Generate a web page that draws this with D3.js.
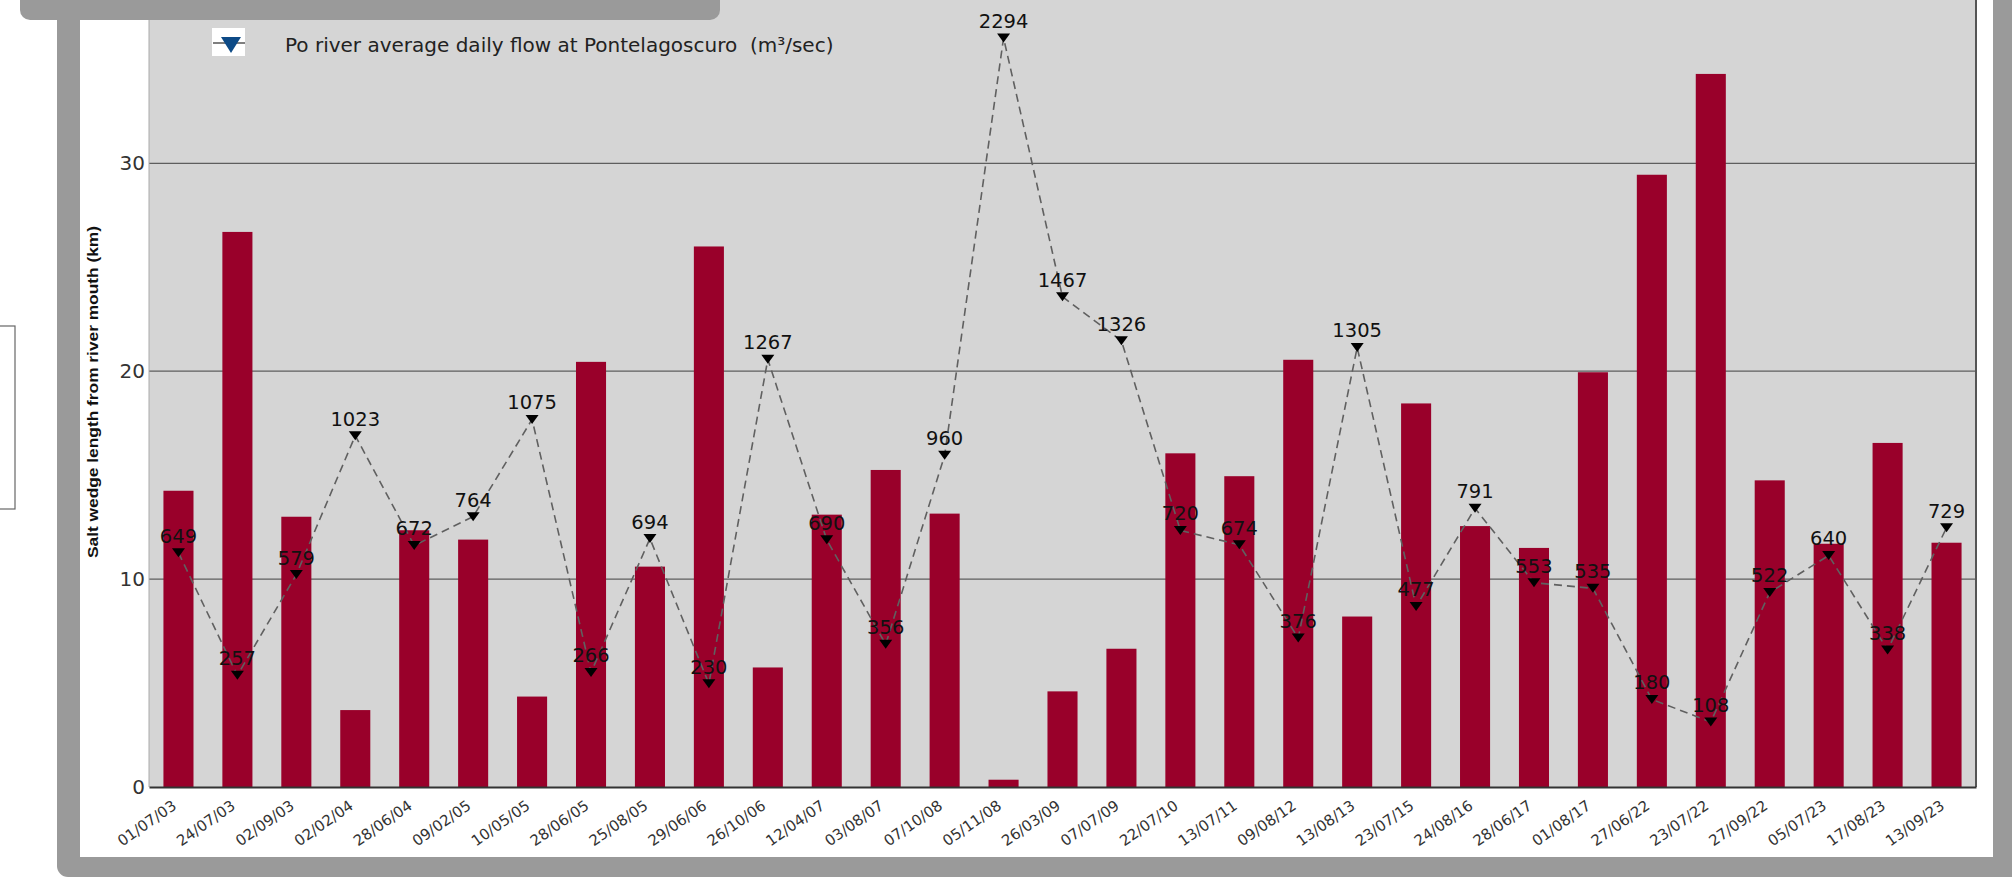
<!DOCTYPE html>
<html>
<head>
<meta charset="utf-8">
<script src="https://cdn.jsdelivr.net/npm/d3@7"></script>
<style>
  html, body { margin: 0; padding: 0; background: #fff; }
  svg { display: block; }
</style>
</head>
<body>
<svg width="2012" height="877"></svg>
<script>
// survey dates (x categories)
var dates = ['01/07/03', '24/07/03', '02/09/03', '02/02/04', '28/06/04', '09/02/05', '10/05/05',
    '28/06/05', '25/08/05', '29/06/06', '26/10/06', '12/04/07', '03/08/07', '07/10/08', '05/11/08',
    '26/03/09', '07/07/09', '22/07/10', '13/07/11', '09/08/12', '13/08/13', '23/07/15', '24/08/16',
    '28/06/17', '01/08/17', '27/06/22', '23/07/22', '27/09/22', '05/07/23', '17/08/23', '13/09/23'];

// salt wedge length (km)
var wedgeKm = [14.25, 26.7, 13.0, 3.7, 12.35, 11.9, 4.35, 20.45, 10.6, 26.0, 5.75, 13.1, 15.25,
    13.15, 0.35, 4.6, 6.65, 16.05, 14.95, 20.55, 8.2, 18.45, 12.55, 11.5, 19.95, 29.45, 34.3,
    14.75, 11.7, 16.55, 11.75];

// Po river flow at Pontelagoscuro (m3/sec), from the point labels
var flow = [649, 257, 579, 1023, 672, 764, 1075, 266, 694, 230, 1267, 690, 356, 960, 2294, 1467,
    1326, 720, 674, 376, 1305, 477, 791, 553, 535, 180, 108, 522, 640, 338, 729];

var kmTicks = [0, 10, 20, 30];
var kmDomain = [0, 38];
var flowDomain = [-100, 2425];   // hidden secondary axis

var yTitle = 'Salt wedge length from river mouth (km)';
var legendLabel = 'Po river average daily flow at Pontelagoscuro  (m\u00b3/sec)';

var svg = d3.select('svg');

var margin = { top: -3, left: 149 };
var width = 1976 - 149;
var height = 787 + 3;

// outer decoration: gray frame, white panel, little box on the left
svg.append('rect')
    .attr('x', -2).attr('y', 326).attr('width', 17).attr('height', 183)
    .attr('fill', '#fff').attr('stroke', '#666').attr('stroke-width', 1.2);

svg.append('rect')
    .attr('x', 57).attr('y', -30).attr('width', 2000).attr('height', 907).attr('rx', 11)
    .attr('fill', '#9a9a9a');

svg.append('rect')
    .attr('x', 80).attr('y', -30).attr('width', 1913).attr('height', 887)
    .attr('fill', '#fff');

var g = svg.append('g')
    .attr('transform', 'translate(' + margin.left + ',' + margin.top + ')');

var xScale = d3.scaleBand()
    .domain(dates)
    .range([0, width])
    .paddingInner(0.49)
    .paddingOuter(0.245);

var yScale = d3.scaleLinear()
    .domain(kmDomain)
    .range([height, 0]);

var flowScale = d3.scaleLinear()
    .domain(flowDomain)
    .range([height, 0]);

g.append('rect')
    .attr('width', width)
    .attr('height', height)
    .attr('fill', '#d5d5d5');

// grid lines
g.append('g')
    .selectAll('line')
    .data(kmTicks.filter(function (d) { return d > 0; }))
    .enter().append('line')
    .attr('x1', 0).attr('x2', width)
    .attr('y1', function (d) { return yScale(d); })
    .attr('y2', function (d) { return yScale(d); })
    .attr('stroke', '#5e5e5e')
    .attr('stroke-width', 1.2);

// bars
g.append('g')
    .selectAll('rect')
    .data(wedgeKm)
    .enter().append('rect')
    .attr('x', function (d, i) { return xScale(dates[i]); })
    .attr('y', function (d) { return yScale(d); })
    .attr('width', xScale.bandwidth())
    .attr('height', function (d) { return height - yScale(d); })
    .attr('fill', '#99002a');

// plot borders
g.append('line')
    .attr('x1', 0).attr('x2', 0).attr('y1', 0).attr('y2', height)
    .attr('stroke', '#aaa').attr('stroke-width', 1);
g.append('line')
    .attr('x1', width).attr('x2', width).attr('y1', 0).attr('y2', height)
    .attr('stroke', '#555').attr('stroke-width', 2);

// axes
var yAxis = g.append('g')
    .call(d3.axisLeft(yScale).tickValues(kmTicks).tickSize(0).tickPadding(4));
yAxis.select('.domain').remove();
yAxis.selectAll('text')
    .attr('font-family', 'DejaVu Sans, sans-serif')
    .attr('font-size', 20)
    .attr('fill', '#333');

var xAxis = g.append('g')
    .attr('transform', 'translate(0,' + height + ')')
    .call(d3.axisBottom(xScale).tickSize(0));
xAxis.select('.domain')
    .attr('stroke', '#333')
    .attr('stroke-width', 2);
xAxis.selectAll('text')
    .attr('font-family', 'DejaVu Sans, sans-serif')
    .attr('font-size', 15)
    .attr('fill', '#333')
    .attr('y', 0).attr('dy', 0)
    .attr('text-anchor', 'end')
    .attr('transform', 'translate(-1,21) rotate(-35)');

// flow line
var cx = function (d, i) { return xScale(dates[i]) + xScale.bandwidth() / 2; };

g.append('path')
    .datum(flow)
    .attr('d', d3.line()
        .x(cx)
        .y(function (d) { return flowScale(d); }))
    .attr('fill', 'none')
    .attr('stroke', '#606060')
    .attr('stroke-width', 1.6)
    .attr('stroke-dasharray', '8,5');

var tri = 'M-6.5,-4.5L6.5,-4.5L0,4.5Z';

g.append('g')
    .selectAll('path')
    .data(flow)
    .enter().append('path')
    .attr('d', tri)
    .attr('transform', function (d, i) { return 'translate(' + cx(d, i) + ',' + flowScale(d) + ')'; })
    .attr('fill', '#000');

g.append('g')
    .selectAll('text')
    .data(flow)
    .enter().append('text')
    .attr('x', cx)
    .attr('y', function (d) { return flowScale(d) - 10; })
    .attr('text-anchor', 'middle')
    .attr('font-family', 'DejaVu Sans, sans-serif')
    .attr('font-size', 19.5)
    .attr('fill', '#111')
    .text(function (d) { return d; });

// y title
svg.append('text')
    .attr('transform', 'translate(98,392) rotate(-90)')
    .attr('text-anchor', 'middle')
    .attr('font-family', 'Liberation Sans, Arial, sans-serif')
    .attr('font-weight', 'bold')
    .attr('font-size', 14)
    .attr('textLength', 332)
    .attr('lengthAdjust', 'spacingAndGlyphs')
    .attr('fill', '#111')
    .text(yTitle);

// legend
var legend = svg.append('g');
legend.append('rect')
    .attr('x', 212).attr('y', 28).attr('width', 33).attr('height', 28)
    .attr('fill', '#fff');
legend.append('line')
    .attr('x1', 213).attr('x2', 245).attr('y1', 43).attr('y2', 43)
    .attr('stroke', '#555').attr('stroke-width', 1.5);
legend.append('path')
    .attr('d', 'M-10,-8L10,-8L0,8Z')
    .attr('transform', 'translate(231,45)')
    .attr('fill', '#0d4a86');
legend.append('text')
    .attr('x', 285).attr('y', 52)
    .attr('font-family', 'DejaVu Sans, sans-serif')
    .attr('font-size', 20)
    .attr('fill', '#222')
    .style('white-space', 'pre')
    .text(legendLabel);

// gray tab over the top-left corner
svg.append('rect')
    .attr('x', 20).attr('y', -20).attr('width', 700).attr('height', 40).attr('rx', 10)
    .attr('fill', '#9a9a9a');
</script>
</body>
</html>
